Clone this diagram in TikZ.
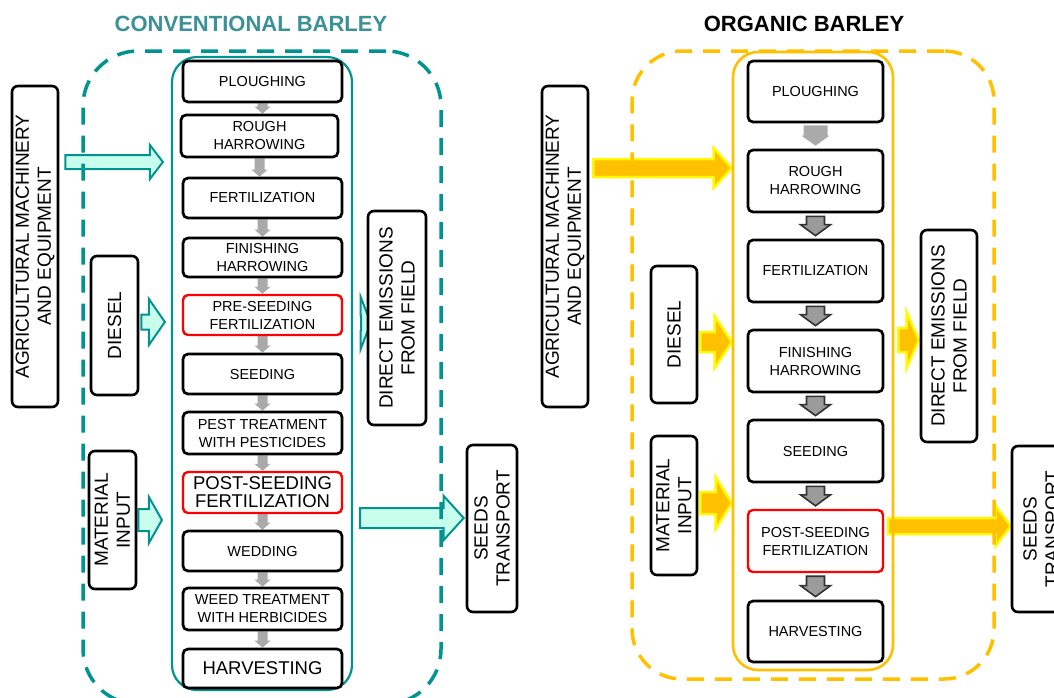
\documentclass[tikz,border=0pt]{standalone}
\usepackage{fontspec}
\setmainfont{Liberation Sans}
\usetikzlibrary{calc}
\pgfdeclarelayer{background}
\pgfsetlayers{background,main}
\definecolor{tealc}{RGB}{0,148,145}
\definecolor{titleteal}{RGB}{58,145,150}
\definecolor{aquafill}{RGB}{200,255,236}
\definecolor{orangec}{RGB}{255,192,0}
\definecolor{yellowc}{RGB}{255,250,0}
\definecolor{lgray}{RGB}{170,170,170}
\definecolor{mgray}{RGB}{155,155,155}
\definecolor{dgray}{RGB}{50,50,50}
% horizontal block arrow: [style]{from}{to}{y}{gap1}{gap2}{shaft half}{head half}{head len}
\newcommand\harr[9][]{%
  \draw[#1] let \p1=(#2.east), \p2=(#3.west) in
  ({\x1+#5pt},{-#4pt+#7pt}) -- ({\x2-(#6pt)-(#9pt)},{-#4pt+#7pt}) -- ({\x2-(#6pt)-(#9pt)},{-#4pt+#8pt})
  -- ({\x2-(#6pt)},{-#4pt}) -- ({\x2-(#6pt)-(#9pt)},{-#4pt-#8pt}) -- ({\x2-(#6pt)-(#9pt)},{-#4pt-#7pt})
  -- ({\x1+#5pt},{-#4pt-#7pt}) -- cycle;}
% vertical block arrow: [style]{from}{to}{gap1}{gap2}{shaft half}{head half}{head len}
\newcommand\varr[8][]{%
  \draw[#1] let \p1=(#2.south), \p2=(#3.north) in
  ({\x1-#6pt},{\y1-(#4pt)}) -- ({\x1-#6pt},{\y2+(#5pt)+(#8pt)}) -- ({\x1-#7pt},{\y2+(#5pt)+(#8pt)})
  -- ({\x1},{\y2+(#5pt)}) -- ({\x1+#7pt},{\y2+(#5pt)+(#8pt)}) -- ({\x1+#6pt},{\y2+(#5pt)+(#8pt)})
  -- ({\x1+#6pt},{\y1-(#4pt)}) -- cycle;}
\begin{document}
\begin{tikzpicture}[x=1pt,y=-1pt,
  proc/.style={draw, line width=2.7pt, rounded corners=5pt, fill=white, align=center,
    inner sep=0pt, font=\fontsize{14.5}{18}\selectfont},
  procred/.style={proc, draw=red, line width=2.4pt},
  bigtxt/.style={font=\fontsize{18.5}{18}\selectfont},
  side/.style={draw, line width=2.6pt, rounded corners=6pt, fill=white, inner sep=0pt},
  sidetext/.style={rotate=90, align=center, inner sep=0pt, font=\fontsize{19}{22}\selectfont},
  title/.style={font=\fontsize{22}{24}\selectfont\bfseries},
  tealarrow/.style={draw=tealc, fill=aquafill, line width=2pt, line join=miter},
  orarrow/.style={draw=yellowc, fill=orangec, line width=2.5pt, line join=miter},
  smallgray/.style={fill=lgray, draw=none},
  biggray/.style={fill=mgray, draw=dgray, line width=1.6pt, line join=miter},
  outdash/.style={draw, line width=3.5pt, dash pattern=on 17pt off 11pt, inner sep=0pt},
  incont/.style={draw, inner sep=0pt}]
\useasboundingbox (0,0) rectangle (1054,697);
\clip (0,0) rectangle (1054,697);

% titles
\node[title, text=titleteal] (tL) at (251,24) {CONVENTIONAL BARLEY};
\node[title] (tR) at (804,24) {ORGANIC BARLEY};

% containers
\node[outdash, draw=tealc, rounded corners=55pt, minimum width=358pt, minimum height=653pt] (outL) at (262,377.5) {};
\node[incont, draw=tealc, line width=2.2pt, rounded corners=25pt, minimum width=180pt, minimum height=633pt] (inL) at (262,373.5) {};
\node[outdash, draw=orangec, rounded corners=50pt, minimum width=362pt, minimum height=628pt] (outR) at (813,365) {};
\node[incont, draw=orangec, line width=2.6pt, rounded corners=25pt, minimum width=160pt, minimum height=618pt] (inR) at (813,361) {};

% ---------- conventional: process boxes
\node[proc, minimum width=159pt, minimum height=41pt] (l1) at (262.5,81.5) {PLOUGHING};
\node[proc, minimum width=157pt, minimum height=42pt] (l2) at (259.5,136) {ROUGH\\HARROWING};
\node[proc, minimum width=159pt, minimum height=40pt] (l3) at (262.5,198) {FERTILIZATION};
\node[proc, minimum width=159pt, minimum height=39pt] (l4) at (262.5,257.5) {FINISHING\\HARROWING};
\node[procred, minimum width=159pt, minimum height=40pt] (l5) at (262.5,315) {PRE-SEEDING\\FERTILIZATION};
\node[proc, minimum width=159pt, minimum height=40pt] (l6) at (262.5,374) {SEEDING};
\node[proc, minimum width=159pt, minimum height=42pt] (l7) at (262.5,433) {PEST TREATMENT\\WITH PESTICIDES};
\node[procred, bigtxt, minimum width=159pt, minimum height=41pt] (l8) at (262.5,492.5) {POST-SEEDING\\FERTILIZATION};
\node[proc, minimum width=159pt, minimum height=40pt] (l9) at (262.5,551) {WEDDING};
\node[proc, minimum width=159pt, minimum height=42pt] (l10) at (262.5,609) {WEED TREATMENT\\WITH HERBICIDES};
\node[proc, bigtxt, minimum width=159pt, minimum height=39pt] (l11) at (262.5,668.5) {HARVESTING};

% conventional: side boxes
\node[side, minimum width=46pt, minimum height=321pt] (agL) at (35,246.5) {};
\node[sidetext] at (agL) {AGRICULTURAL MACHINERY\\AND EQUIPMENT};
\node[side, minimum width=47pt, minimum height=139pt] (dsL) at (114.5,325.5) {};
\node[sidetext] at (dsL) {DIESEL};
\node[side, minimum width=47pt, minimum height=138pt] (mtL) at (112.5,520) {};
\node[sidetext] at (mtL) {MATERIAL\\INPUT};
\node[side, minimum width=58pt, minimum height=214pt] (emL) at (397,318) {};
\node[sidetext] at (emL) {DIRECT EMISSIONS\\FROM FIELD};
\node[side, minimum width=50pt, minimum height=167pt] (sdL) at (492,528.5) {};
\node[sidetext] at (sdL) {SEEDS\\TRANSPORT};

% ---------- organic: process boxes
\node[proc, minimum width=135pt, minimum height=61pt] (r1) at (815.5,91.5) {PLOUGHING};
\node[proc, minimum width=135pt, minimum height=62pt] (r2) at (815.5,181) {ROUGH\\HARROWING};
\node[proc, minimum width=135pt, minimum height=62pt] (r3) at (815.5,271) {FERTILIZATION};
\node[proc, minimum width=135pt, minimum height=62pt] (r4) at (815.5,361) {FINISHING\\HARROWING};
\node[proc, minimum width=135pt, minimum height=62pt] (r5) at (815.5,451) {SEEDING};
\node[procred, minimum width=135pt, minimum height=62pt] (r6) at (815.5,541) {POST-SEEDING\\FERTILIZATION};
\node[proc, minimum width=135pt, minimum height=61pt] (r7) at (815.5,631.5) {HARVESTING};

% organic: side boxes
\node[side, minimum width=46pt, minimum height=321pt] (agR) at (565,246.5) {};
\node[sidetext] at (agR) {AGRICULTURAL MACHINERY\\AND EQUIPMENT};
\node[side, minimum width=46pt, minimum height=137pt] (dsR) at (674,334.5) {};
\node[sidetext] at (dsR) {DIESEL};
\node[side, minimum width=46pt, minimum height=139pt] (mtR) at (674,505.5) {};
\node[sidetext] at (mtR) {MATERIAL\\INPUT};
\node[side, minimum width=56pt, minimum height=212pt] (emR) at (949,336) {};
\node[sidetext] at (emR) {DIRECT EMISSIONS\\FROM FIELD};
\node[side, minimum width=58pt, minimum height=166pt] (sdR) at (1041,529) {};
\node[sidetext] at (sdR) {SEEDS\\TRANSPORT};

\begin{pgfonlayer}{background}
% conventional arrows
\harr[tealarrow]{agL}{inL}{162}{6}{8}{7}{17}{13}
\harr[tealarrow]{dsL}{inL}{322}{2}{6}{7.5}{23}{16}
\harr[tealarrow]{mtL}{inL}{520}{1}{9}{11}{23}{13}
\harr[tealarrow]{inL}{emL}{323}{8}{-4}{7.5}{26}{10}
\harr[tealarrow]{inL}{sdL}{518}{7}{2}{10}{22}{20}
\varr[smallgray]{l1}{l2}{0}{0}{5}{8}{7}
\varr[smallgray]{l2}{l3}{0}{0}{5}{8}{7}
\varr[smallgray]{l3}{l4}{0}{0}{5}{8}{7}
\varr[smallgray]{l4}{l5}{0}{0}{5}{8}{7}
\varr[smallgray]{l5}{l6}{0}{0}{5}{8}{7}
\varr[smallgray]{l6}{l7}{0}{0}{5}{8}{7}
\varr[smallgray]{l7}{l8}{0}{0}{5}{8}{7}
\varr[smallgray]{l8}{l9}{0}{0}{5}{8}{7}
\varr[smallgray]{l9}{l10}{0}{0}{5}{8}{7}
\varr[smallgray]{l10}{l11}{0}{0}{5}{8}{7}
% organic arrows
\harr[orarrow]{agR}{inR}{168}{4}{0}{9}{20}{18}
\harr[orarrow]{dsR}{inR}{342}{2}{0}{10}{26}{17}
\harr[orarrow]{mtR}{inR}{503}{2}{0}{11}{26}{16}
\harr[orarrow]{inR}{emR}{340}{4}{1}{12}{28}{12}
\harr[orarrow]{r6}{sdR}{526}{4}{0}{8}{20}{15}
\end{pgfonlayer}
\varr[smallgray]{r1}{r2}{2}{3}{12}{14}{10}
\varr[biggray]{r2}{r3}{3}{3}{9}{15}{11}
\varr[biggray]{r3}{r4}{3}{3}{9}{15}{11}
\varr[biggray]{r4}{r5}{3}{3}{9}{15}{11}
\varr[biggray]{r5}{r6}{3}{3}{9}{15}{11}
\varr[biggray]{r6}{r7}{3}{3}{9}{15}{11}
\end{tikzpicture}
\end{document}
